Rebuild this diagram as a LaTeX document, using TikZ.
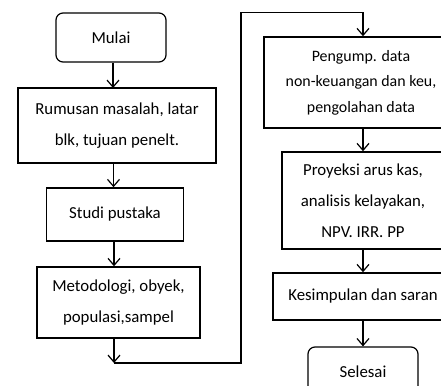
\documentclass[tikz,border=0pt]{standalone}
\usepackage{fontspec}
\setmainfont{Carlito}
\usetikzlibrary{arrows.meta}

\tikzset{
    box/.style={draw,line width=1.5pt,align=center,inner sep=0pt,
        font=\fontsize{16.8}{31}\selectfont},
    endbox/.style={box,line width=1.2pt,rounded corners=7pt},
    arr/.style={line width=1.2pt,-{Straight Barb[length=7pt,width=12pt,line width=1.2pt]}}
}

\begin{document}
\begin{tikzpicture}[x=1pt,y=-1pt]
    \useasboundingbox (0,0) rectangle (441,385);

    % Left column
    \node[endbox,minimum width=110pt,minimum height=49pt] (mulai) at (111,37.5) {Mulai};
    \node[box,minimum width=198pt,minimum height=75pt] (rumusan) at (117,125.5) {
        Rumusan masalah, latar\\
        blk, tujuan penelt.
    };
    \node[box,minimum width=137pt,minimum height=53pt] (studi) at (115,214.5) {Studi pustaka};
    \node[box,minimum width=163pt,minimum height=71pt] (metod) at (118.5,302.5) {
        Metodologi, obyek,\\
        populasi,sampel
    };

    % Right column
    \node[box,font=\fontsize{15.9}{25.5}\selectfont,minimum width=194pt,minimum height=91pt] (data) at (361,82.5) {
        Pengump. data\\
        non-keuangan dan keu,\\
        pengolahan data
    };
    \node[box,minimum width=162pt,minimum height=97pt] (proyeksi) at (363,200.5) {
        Proyeksi arus kas,\\
        analisis kelayakan,\\
        NPV. IRR. PP
    };
    \node[box,minimum width=180pt,minimum height=47pt] (simpul) at (363,296.5) {Kesimpulan dan saran};
    \node[endbox,minimum width=110pt,minimum height=50pt] (selesai) at (363,372) {Selesai};

    % Connectors
    \draw[arr] (mulai.south -| 113,0) -- (113,88);
    \draw[arr] (rumusan.south -| 113.5,0) -- (studi.north -| 113.5,0);
    \draw[arr] (studi.south -| 114,0) -- (metod.north -| 114,0);
    \draw[arr] (metod.south -| 114,0) -- (114,363);

    \coordinate (turnA) at (114,363);
    \coordinate (turnB) at (241,363);
    \coordinate (turnC) at (241,12.5);
    \coordinate (turnD) at (363,12.5);
    \draw[line width=1.2pt] (turnA) -- (turnB) -- (turnC) -- (turnD);
    \draw[arr] (turnD) -- (data.north -| turnD);

    \draw[arr] (data.south -| turnD) -- (proyeksi.north);
    \draw[arr] (proyeksi) -- (simpul);
    \draw[arr] (simpul) -- (selesai);
\end{tikzpicture}
\end{document}
